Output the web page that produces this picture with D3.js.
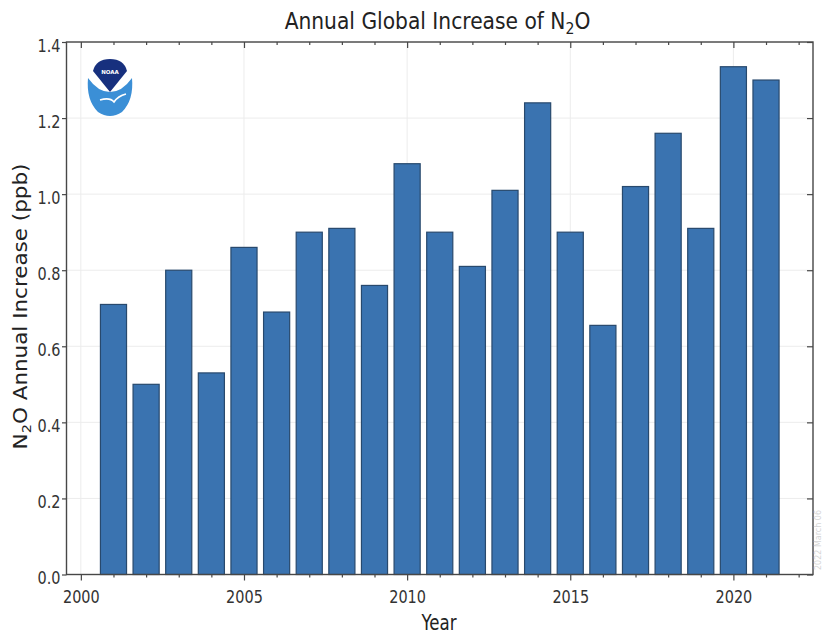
<!DOCTYPE html>
<html>
<head>
<meta charset="utf-8">
<script src="https://cdn.jsdelivr.net/npm/d3@7"></script>
<style>
  html, body { margin: 0; padding: 0; background: #fff; }
  svg { display: block; font-family: "DejaVu Sans", sans-serif; }
</style>
</head>
<body>
<svg id="chart" width="824" height="634"></svg>
<script>
// Annual global N2O increase (ppb) per year
const years = [2001, 2002, 2003, 2004, 2005, 2006, 2007, 2008, 2009, 2010, 2011,
               2012, 2013, 2014, 2015, 2016, 2017, 2018, 2019, 2020, 2021];
const increase = [0.71, 0.50, 0.80, 0.53, 0.86, 0.69, 0.90, 0.91, 0.76, 1.08, 0.90,
                  0.81, 1.01, 1.24, 0.90, 0.655, 1.02, 1.16, 0.91, 1.335, 1.30];
const xTicks = [2000, 2005, 2010, 2015, 2020];
const yTicks = [0.0, 0.2, 0.4, 0.6, 0.8, 1.0, 1.2, 1.4];

const svg = d3.select("#chart");
const margin = { left: 66.5, right: 11, top: 42, bottom: 59.5 };
const W = 824, H = 634;
const x0 = margin.left, x1 = W - margin.right, y0 = H - margin.bottom, y1 = margin.top;

const x = d3.scaleLinear().domain([1999.56, 2022.44]).range([x0, x1]);
const y = d3.scaleLinear().domain([0, 1.4]).range([y0, y1]);
const minorYears = d3.range(2000, 2023).filter(d => !xTicks.includes(d));

// glyphs are drawn slightly narrow (horizontal squeeze of the whole figure)
const SQUEEZE = 0.85;

// grid
const grid = svg.append("g").attr("stroke", "#ececec").attr("stroke-width", 1);
grid.selectAll("line.gx").data(xTicks).join("line")
  .attr("x1", d => x(d)).attr("x2", d => x(d)).attr("y1", y1).attr("y2", y0);
grid.selectAll("line.gy").data(yTicks).join("line")
  .attr("x1", x0).attr("x2", x1).attr("y1", d => y(d)).attr("y2", d => y(d));

// bars
const barW = x(2000.8) - x(2000);
svg.append("g").selectAll("rect").data(years).join("rect")
  .attr("x", (d) => x(d - 0.4))
  .attr("y", (d, i) => y(increase[i]))
  .attr("width", barW)
  .attr("height", (d, i) => y0 - y(increase[i]))
  .attr("fill", "#3a73b0")
  .attr("stroke", "#28496d")
  .attr("stroke-width", 1.2);

// axes
const axisColor = "#474747";
const gBottom = svg.append("g").attr("transform", `translate(0,${y0})`)
  .call(d3.axisBottom(x).tickValues(xTicks).tickFormat(d3.format("d")).tickSize(6).tickSizeOuter(0));
const gBottomMinor = svg.append("g").attr("transform", `translate(0,${y0})`)
  .call(d3.axisBottom(x).tickValues(minorYears).tickFormat("").tickSize(3).tickSizeOuter(0));
const gTop = svg.append("g").attr("transform", `translate(0,${y1})`)
  .call(d3.axisBottom(x).tickValues(xTicks).tickFormat("").tickSize(6).tickSizeOuter(0));
const gTopMinor = svg.append("g").attr("transform", `translate(0,${y1})`)
  .call(d3.axisBottom(x).tickValues(minorYears).tickFormat("").tickSize(3).tickSizeOuter(0));
const gLeft = svg.append("g").attr("transform", `translate(${x0},0)`)
  .call(d3.axisLeft(y).tickValues(yTicks).tickFormat(d3.format(".1f")).tickSize(4.5).tickSizeOuter(0));
const gRight = svg.append("g").attr("transform", `translate(${x1},0)`)
  .call(d3.axisLeft(y).tickValues(yTicks).tickFormat("").tickSize(6).tickSizeOuter(0));

[gBottom, gBottomMinor, gTop, gTopMinor, gLeft, gRight].forEach(g => {
  g.select(".domain").remove();
  g.selectAll(".tick line").attr("stroke", axisColor).attr("stroke-width", 1.2);
  g.selectAll("text").attr("fill", "#333").attr("font-family", "DejaVu Sans, sans-serif");
});
gBottom.selectAll("text")
  .attr("font-size", 17).attr("y", 0).attr("dy", 0)
  .attr("transform", `translate(0,28.8) scale(${SQUEEZE},1)`);
gLeft.selectAll("text")
  .attr("font-size", 17).attr("x", 0).attr("dy", 0)
  .attr("transform", `translate(-6,9.2) scale(${SQUEEZE},1)`);

// frame
svg.append("rect").attr("x", x0).attr("y", y1).attr("width", x1 - x0).attr("height", y0 - y1)
  .attr("fill", "none").attr("stroke", axisColor).attr("stroke-width", 1.4);

// titles
const title = svg.append("text")
  .attr("transform", `translate(437.5,29) scale(0.88,1)`)
  .attr("text-anchor", "middle").attr("font-size", 23).attr("fill", "#222");
title.append("tspan").text("Annual Global Increase of N");
title.append("tspan").attr("font-size", 16).attr("dy", 5).text("2");
title.append("tspan").attr("dy", -5).text("O");

svg.append("text")
  .attr("transform", `translate(439,630) scale(0.81,1)`)
  .attr("text-anchor", "middle").attr("font-size", 20.5).attr("fill", "#222").text("Year");

const yl = svg.append("text")
  .attr("transform", `translate(26.5,306.5) rotate(-90) scale(1.13,1)`)
  .attr("text-anchor", "middle").attr("font-size", 19).attr("fill", "#222");
yl.append("tspan").text("N");
yl.append("tspan").attr("font-size", 13).attr("dy", 4.5).text("2");
yl.append("tspan").attr("dy", -4.5).text("O Annual Increase (ppb)");

// date stamp in the right margin
svg.append("text")
  .attr("transform", `translate(821,570) rotate(-90)`)
  .attr("font-size", 8).attr("fill", "#d6d6d6").text("2022 March 06");

// NOAA emblem
const logo = svg.append("g").attr("transform", "translate(110,88)");
logo.append("path")
  .attr("d", "M-22,-10 Q-24,12 -12,24 Q0,32 12,24 Q24,12 22,-10 Q12,4 0,4 Q-12,4 -22,-10 Z")
  .attr("fill", "#3b8fd6");
logo.append("path")
  .attr("d", "M-17,-17 Q-14,-29 0,-29 Q14,-29 17,-17 L0,4 Z")
  .attr("fill", "#17307e");
logo.append("path")
  .attr("d", "M-10,12 Q0,9 4,14 Q8,8 16,6")
  .attr("fill", "none").attr("stroke", "#fff").attr("stroke-width", 1.6);
logo.append("text").attr("x", 0).attr("y", -14).attr("text-anchor", "middle")
  .attr("font-size", 5.5).attr("font-weight", "bold").attr("fill", "#fff").text("NOAA");
</script>
</body>
</html>
